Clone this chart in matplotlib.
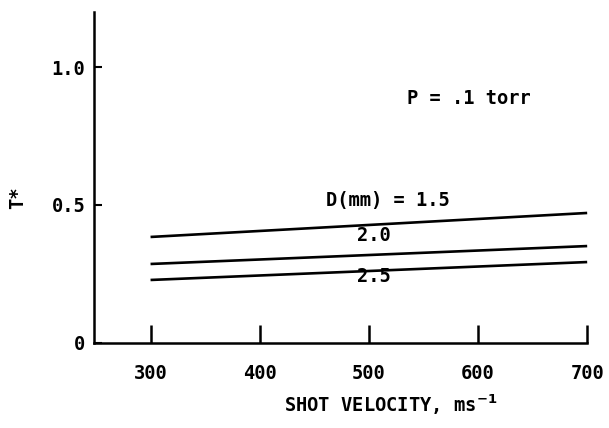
import matplotlib
matplotlib.use('Agg')
import matplotlib.pyplot as plt

velocity = [300, 700]
t_d15 = [0.384, 0.471]
t_d20 = [0.286, 0.351]
t_d25 = [0.228, 0.293]
curve_labels = ['D(mm) = 1.5', '2.0', '2.5']
xticks = [300, 400, 500, 600, 700]
yticks = [0, 0.5, 1.0]
ytick_labels = ['0', '0.5', '1.0']

plt.rcParams['font.family'] = ['DejaVu Sans Mono', 'DejaVu Sans']
plt.rcParams['font.weight'] = 'bold'
plt.rcParams['axes.labelweight'] = 'bold'
plt.rcParams['mathtext.default'] = 'bf'

FS = 13.5


def main():
    fig = plt.figure(figsize=(6.09, 4.28), dpi=100)
    ax = fig.add_axes([0.154, 0.199, 0.846, 0.773])

    for tv in (t_d15, t_d20, t_d25):
        ax.plot(velocity, tv, color='black', lw=1.9, solid_capstyle='butt')

    ax.text(461, 0.515, curve_labels[0], fontsize=FS, va='center', ha='left')
    ax.text(505, 0.39, curve_labels[1], fontsize=FS, va='center', ha='center')
    ax.text(505, 0.24, curve_labels[2], fontsize=FS, va='center', ha='center')
    ax.text(535, 0.888, 'P = .1 torr', fontsize=FS, va='center', ha='left')

    ax.set_xlim(248, 720)
    ax.set_ylim(0, 1.2)
    for side in ('top', 'right'):
        ax.spines[side].set_visible(False)
    ax.spines['bottom'].set_bounds(248, 700)
    ax.spines['left'].set_linewidth(1.8)
    ax.spines['bottom'].set_linewidth(1.8)

    ax.set_xticks(xticks)
    ax.set_xticklabels([str(v) for v in xticks])
    ax.set_yticks(yticks)
    ax.set_yticklabels(ytick_labels)
    ax.tick_params(axis='x', direction='in', length=13, width=1.8,
                   pad=15, labelsize=FS)
    ax.tick_params(axis='y', direction='in', length=6, width=1.5,
                   pad=6, labelsize=FS)

    ax.set_xlabel('SHOT VELOCITY, ms$^{-1}$', fontsize=FS)
    ax.xaxis.set_label_coords(0.577, -0.15)
    ax.set_ylabel('T*', fontsize=FS)
    ax.yaxis.set_label_coords(-0.13, 0.44)

    fig.savefig('out.png', dpi=100)


if __name__ == '__main__':
    main()
